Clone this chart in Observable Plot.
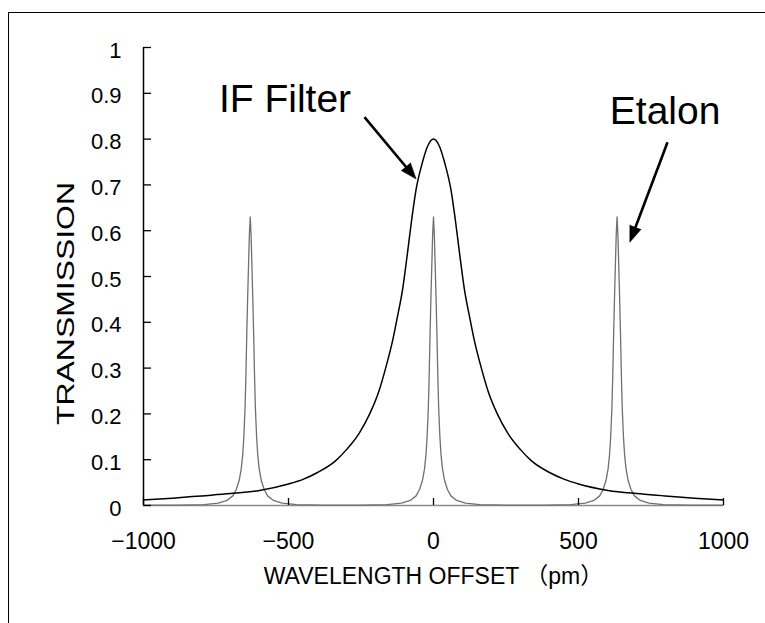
<!DOCTYPE html>
<html><head><meta charset="utf-8">
<script src="https://cdn.jsdelivr.net/npm/d3@7"></script>
<script src="https://cdn.jsdelivr.net/npm/@observablehq/plot@0.6"></script>
<style>
html,body{margin:0;padding:0;background:#fff;overflow:hidden;width:765px;height:623px}
#frame{position:absolute;left:8px;top:12px;width:800px;height:700px;border:1.5px solid #000;box-sizing:border-box}
#chart{position:absolute;left:0;top:0}
</style></head><body><div id="frame"></div><div id="chart"></div>
<script>
// IF filter transmission curve
const ifX = [-1000,-900,-800,-700,-600,-500,-450,-400,-337,-300,-257,-220,-188,-165,-141,-125,-107,-90,-75,-60,-40,-20,0,20,40,60,75,90,107,125,141,165,188,220,257,300,337,400,452,500,602,700,798,900,1000];
const ifY = [0.012,0.016,0.021,0.026,0.033,0.047,0.057,0.072,0.098,0.122,0.157,0.20,0.25,0.30,0.36,0.41,0.47,0.55,0.625,0.69,0.745,0.785,0.80,0.785,0.745,0.69,0.625,0.55,0.47,0.41,0.36,0.30,0.25,0.20,0.157,0.122,0.098,0.072,0.057,0.047,0.033,0.026,0.021,0.016,0.012];
// Etalon: peak centres and the measured shape of one peak (offset in pm -> transmission)
const etalonCenters = [-632, 0, 633];
const etalonOffsets = [0,3,6,9,12,15,18,22,26,31,38,48,60,80,110,160,250,316];
const etalonProfile = [0.63,0.59,0.52,0.45,0.37,0.28,0.21,0.15,0.11,0.08,0.055,0.035,0.021,0.011,0.005,0.002,0.001,0.001];
// axes
const xTicks = [-1000,-500,0,500,1000];
const yTicks = [0,0.1,0.2,0.3,0.4,0.5,0.6,0.7,0.8,0.9,1];
// annotations
const labelNames = ["IF Filter","Etalon"];
const labelX = [-740, 608];
const labelY = [0.886, 0.86];
const arrowX1 = [-238, 807];
const arrowY1 = [0.848, 0.793];
const arrowX2 = [-60, 677];
const arrowY2 = [0.713, 0.575];

const W = 765, H = 623, mL = 143, mR = 42, mT = 47, mB = 118;
const plotW = W - mL - mR, plotH = H - mT - mB;

const ifData = ifX.map((x, i) => ({x, y: ifY[i]}));
const etMap = new Map();
for (const c of etalonCenters) {
  etalonOffsets.forEach((o, i) => {
    for (const s of (o === 0 ? [0] : [-1, 1])) {
      const x = c + s * o;
      if (x < -1000 || x > 1000) continue;
      const y = etalonProfile[i];
      if (!etMap.has(x) || etMap.get(x) < y) etMap.set(x, y);
    }
  });
}
etMap.set(-1000, 0.001); etMap.set(1000, 0.001);
const etData = Array.from(etMap, ([x, y]) => ({x, y})).sort((a, b) => a.x - b.x);

const labels = labelNames.map((t, i) => ({t, x: labelX[i], y: labelY[i]}));
const headLen = 16;
const arrows = arrowX1.map((x1, i) => {
  const y1 = arrowY1[i], x2 = arrowX2[i], y2 = arrowY2[i];
  const dxp = (x2 - x1) / 2000 * plotW, dyp = -(y2 - y1) * plotH;
  const L = Math.hypot(dxp, dyp);
  const f = (L - headLen + 3) / L;
  return {x1, y1, x2, y2, xe: x1 + (x2 - x1) * f, ye: y1 + (y2 - y1) * f,
    rot: Math.atan2(dxp, -dyp) * 180 / Math.PI};
});

const font = "'Liberation Sans', 'Noto Sans CJK JP', Arial, sans-serif";
const chart = Plot.plot({
  width: W, height: H,
  marginLeft: mL, marginRight: mR, marginTop: mT, marginBottom: mB,
  style: {fontFamily: font, fontSize: "22px", background: "transparent", color: "black"},
  x: {domain: [-1000, 1000]},
  y: {domain: [0, 1]},
  marks: [
    Plot.axisY({ticks: yTicks, tickSize: 0, tickPadding: 22, label: null, fontSize: 22, dy: 3, tickFormat: d => String(d)}),
    Plot.axisX({ticks: xTicks, tickSize: 0, tickPadding: 27, label: null, fontSize: 23, tickFormat: d => d < 0 ? "\u2212" + Math.abs(d) : String(d)}),
    Plot.ruleY([0], {stroke: "#8a8a8a", strokeWidth: 1.6}),
    Plot.line(etData, {x: "x", y: "y", stroke: "#707070", strokeWidth: 1.3, curve: "linear"}),
    Plot.line(ifData, {x: "x", y: "y", stroke: "black", strokeWidth: 1.5, curve: "monotone-x"}),
    Plot.ruleX([-1000], {stroke: "black", strokeWidth: 1.5}),
    Plot.tickY(yTicks, {y: d => d, insetRight: plotW - 8, stroke: "black", strokeWidth: 1.3}),
    Plot.tickX(xTicks, {x: d => d, insetTop: plotH - 7, stroke: "black", strokeWidth: 1.3}),
    Plot.text(labels, {x: "x", y: "y", text: "t", textAnchor: "start", lineAnchor: "middle", fontSize: 39, fill: "black"}),
    Plot.link(arrows, {x1: "x1", y1: "y1", x2: "xe", y2: "ye", stroke: "black", strokeWidth: 2.6}),
    Plot.vector(arrows, {x: "x2", y: "y2", rotate: "rot", length: headLen, r: 6, shape: "spike", anchor: "end", fill: "black", stroke: "black", strokeWidth: 0.5}),
    Plot.text(["TRANSMISSION"], {frameAnchor: "left", textAnchor: "middle", lineAnchor: "middle", rotate: -90, dx: -77, dy: 27, fontSize: 23, fill: "black"}),
    Plot.text(["WAVELENGTH OFFSET \uFF08pm\uFF09"], {frameAnchor: "bottom", textAnchor: "middle", lineAnchor: "middle", dx: 0, dy: 71, fontSize: 23, fill: "black"})
  ]
});
d3.select(chart).selectAll("text").filter(function () { return this.textContent === "TRANSMISSION"; })
  .attr("textLength", 243).attr("lengthAdjust", "spacingAndGlyphs");
document.getElementById("chart").appendChild(chart);
</script></body></html>
